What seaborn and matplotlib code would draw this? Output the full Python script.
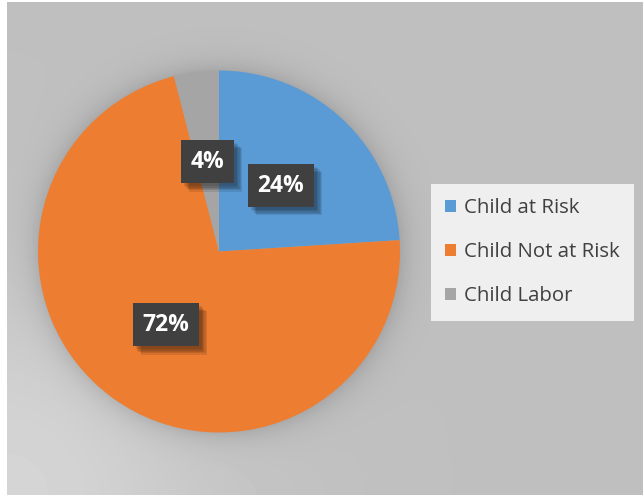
import numpy as np
import matplotlib
matplotlib.use("Agg")
import matplotlib.pyplot as plt
import matplotlib.patheffects as pe
import seaborn as sns

# Survey shares by child category (percent)
categories = ["Child at Risk", "Child Not at Risk", "Child Labor"]
shares = [24, 72, 4]
slice_colors = ["#5B9BD5", "#ED7D31", "#A5A5A5"]

sns.set_theme(style="white")
plt.rcParams["font.family"] = ["Open Sans", "DejaVu Sans"]

W, H = 643, 495
fig = plt.figure(figsize=(W / 100, H / 100), dpi=100, facecolor="white")

# Chart area: flat grey with a lighter lower-left corner and a soft glow round the pie
cx, cy, R = 219, 251.5, 181
x0, y0 = 7, 2
bg = fig.add_axes([x0 / W, 0, (W - x0) / W, (H - y0) / H])
bg.set_axis_off()
ny, nx = H - y0, W - x0
yy, xx = np.mgrid[0:ny, 0:nx]
px, py = xx + x0, yy + y0
shade = np.full((ny, nx), 191.0)
shade += 22 * np.exp(-(np.hypot(px - x0, py - H) / 210) ** 2)
dist = np.hypot(px - cx, py - cy) - R
shade -= 24 * np.exp(-np.clip(dist, 0, None) / 13)
bg.imshow(np.clip(shade, 0, 255) / 255, cmap="gray", vmin=0, vmax=1,
          extent=(0, nx, ny, 0), aspect="auto", interpolation="bilinear")
bg.set_xlim(0, nx)
bg.set_ylim(ny, 0)

# Pie
ax = fig.add_axes([(cx - R) / W, (H - cy - R) / H, 2 * R / W, 2 * R / H])
wedges, _, pct_texts = ax.pie(
    shares, colors=slice_colors, startangle=90, counterclock=False,
    autopct="%.0f%%", pctdistance=0.5,
    wedgeprops=dict(linewidth=0),
    textprops=dict(color="white", fontsize=16.5, fontweight="bold"),
)
ax.set_xlim(-1, 1)
ax.set_ylim(-1, 1)

# Dark data-label boxes with a soft drop shadow
soft_shadow = [
    pe.SimplePatchShadow(offset=(2 + k, -2 - k), shadow_rgbFace="black", alpha=0.10)
    for k in range(5)
]
for t in pct_texts:
    t.set_bbox(dict(boxstyle="square,pad=0.42", facecolor="#404040", edgecolor="none"))
    t.get_bbox_patch().set_path_effects(soft_shadow + [pe.Normal()])

# Legend
leg = fig.legend(
    wedges, categories, loc="upper left",
    bbox_to_anchor=(431 / W, 1 - 184 / H), borderaxespad=0,
    frameon=True, fancybox=False, facecolor="#EFEFEF", edgecolor="none",
    framealpha=1, fontsize=14.7, handlelength=0.54, handleheight=0.54,
    handletextpad=0.38, borderpad=0.7, labelspacing=1.18,
)
for t in leg.get_texts():
    t.set_color("#404040")

fig.savefig("out.png", dpi=100, facecolor="white")
